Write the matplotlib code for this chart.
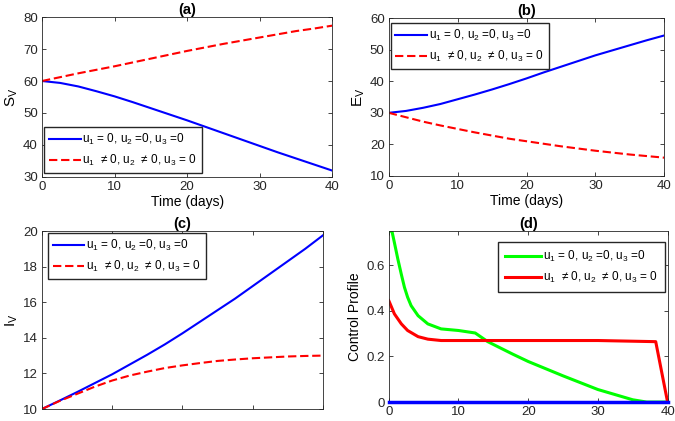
import numpy as np
import matplotlib
matplotlib.use('Agg')
import matplotlib.pyplot as plt

plt.rcParams['font.family'] = ['Liberation Sans', 'DejaVu Sans']
plt.rcParams['mathtext.default'] = 'regular'

# time grid (every 2.5 days)
t = [0, 2.5, 5, 7.5, 10, 12.5, 15, 17.5, 20, 22.5, 25, 27.5, 30, 32.5, 35, 37.5, 40]

sv_none = [60, 59.4, 58.3, 56.8, 55.2, 53.4, 51.5, 49.6, 47.7, 45.7, 43.7, 41.7,
           39.7, 37.7, 35.8, 33.9, 32.0]
sv_ctrl = [60, 61.2, 62.4, 63.5, 64.6, 65.8, 67.0, 68.2, 69.4, 70.5, 71.6, 72.6,
           73.6, 74.6, 75.6, 76.4, 77.3]

ev_none = [30, 30.6, 31.6, 32.8, 34.3, 35.8, 37.4, 39.1, 40.9, 42.8, 44.6, 46.4,
           48.2, 49.8, 51.4, 53.0, 54.5]
ev_ctrl = [30, 28.6, 27.2, 26.0, 24.9, 23.8, 22.8, 21.8, 21.0, 20.2, 19.4, 18.7,
           18.0, 17.4, 16.8, 16.3, 15.8]

iv_none = [10, 10.47, 10.95, 11.45, 11.95, 12.5, 13.05, 13.63, 14.25, 14.9, 15.55,
           16.2, 16.9, 17.6, 18.3, 19.0, 19.75]
iv_ctrl = [10, 10.45, 10.85, 11.25, 11.6, 11.88, 12.1, 12.3, 12.45, 12.58, 12.7,
           12.78, 12.85, 12.9, 12.95, 12.98, 13.0]

# control profiles
tu = [0, 0.45, 0.8, 1.3, 1.8, 2.25, 2.7, 3.2, 4.2, 5.6, 7.5, 10, 12.4, 14.2, 17.8,
      20, 25, 30, 35, 37, 40]
u_green = [0.75, 0.75, 0.70, 0.627, 0.56, 0.503, 0.46, 0.423, 0.379, 0.343, 0.321,
           0.314, 0.303, 0.265, 0.21, 0.178, 0.115, 0.055, 0.01, 0.0, 0.0]
tr = [0, 0.8, 1.8, 2.7, 4.2, 5.6, 7.5, 10, 20, 30, 38.3, 40]
u_red = [0.445, 0.387, 0.343, 0.314, 0.287, 0.276, 0.27, 0.27, 0.27, 0.27, 0.265, 0.0]
tb = [0, 40]
u_blue = [0, 0]

lab1 = 'u$_1$ = 0, u$_2$ =0, u$_3$ =0'
lab2 = 'u$_1$  \u2260 0, u$_2$  \u2260 0, u$_3$ = 0'

fig = plt.figure(figsize=(6.75, 4.21), dpi=100)
axa = fig.add_axes([0.0622, 0.5796, 0.430, 0.380])
axb = fig.add_axes([0.576, 0.582, 0.408, 0.375])
axc = fig.add_axes([0.0622, 0.0285, 0.416, 0.4228])
axd = fig.add_axes([0.576, 0.045, 0.413, 0.406])

edge = '#262626'
for ax in (axa, axb, axc, axd):
    ax.tick_params(direction='in', top=True, right=True, labelsize=9.5,
                   colors=edge, length=3, width=0.6, pad=3)
    for s in ax.spines.values():
        s.set_color(edge)
        s.set_linewidth(0.6)
    ax.set_xlim(0, 40)
    ax.set_xticks([0, 10, 20, 30, 40])

leg_kw = dict(fontsize=8.5, fancybox=False, edgecolor=edge, handlelength=2.7,
              handletextpad=0.15, borderaxespad=0, framealpha=1,
              labelspacing=0.5, borderpad=0.4)
dash = (4, 1.8)

axa.plot(t, sv_none, color='#0000ff', lw=1.5, label=lab1)
axa.plot(t, sv_ctrl, color='#ff0000', lw=1.5, ls='--', dashes=dash, label=lab2)
axa.set_ylim(30, 80)
axa.set_ylabel('S$_V$', fontsize=11, labelpad=2)
axa.set_xlabel('Time (days)', fontsize=10, labelpad=1)
axa.set_title('(a)', fontsize=10.5, fontweight='bold', pad=2)
axa.legend(loc='lower left', bbox_to_anchor=(0.007, 0.025), **leg_kw)

axb.plot(t, ev_none, color='#0000ff', lw=1.5, label=lab1)
axb.plot(t, ev_ctrl, color='#ff0000', lw=1.5, ls='--', dashes=dash, label=lab2)
axb.set_ylim(10, 60)
axb.set_ylabel('E$_V$', fontsize=11, labelpad=2)
axb.set_xlabel('Time (days)', fontsize=10, labelpad=1)
axb.set_title('(b)', fontsize=10.5, fontweight='bold', pad=2)
axb.legend(loc='upper left', bbox_to_anchor=(0.007, 0.968), **leg_kw)

axc.plot(t, iv_none, color='#0000ff', lw=1.5, label=lab1)
axc.plot(t, iv_ctrl, color='#ff0000', lw=1.5, ls='--', dashes=dash, label=lab2)
axc.set_ylim(10, 20)
axc.set_xticklabels([])
axc.set_ylabel('I$_V$', fontsize=11, labelpad=2)
axc.set_title('(c)', fontsize=10.5, fontweight='bold', pad=2)
axc.legend(loc='upper left', bbox_to_anchor=(0.021, 0.989), **leg_kw)

axd.plot(tu, u_green, color='#00ff00', lw=2.2, label=lab1)
axd.plot(tr, u_red, color='#ff0000', lw=2.2, label=lab2)
axd.plot(tb, u_blue, color='#0000ff', lw=2.5, clip_on=False, zorder=5)
axd.set_ylim(0, 0.75)
axd.set_yticks([0, 0.2, 0.4, 0.6])
axd.set_yticklabels(['0', '0.2', '0.4', '0.6'])
axd.set_ylabel('Control Profile', fontsize=10, labelpad=3)
axd.set_title('(d)', fontsize=10.5, fontweight='bold', pad=2)
leg_d = dict(leg_kw, borderpad=0.6, handlelength=3.0)
axd.legend(loc='upper right', bbox_to_anchor=(0.989, 0.936), **leg_d)

fig.savefig('out.png', dpi=100)
